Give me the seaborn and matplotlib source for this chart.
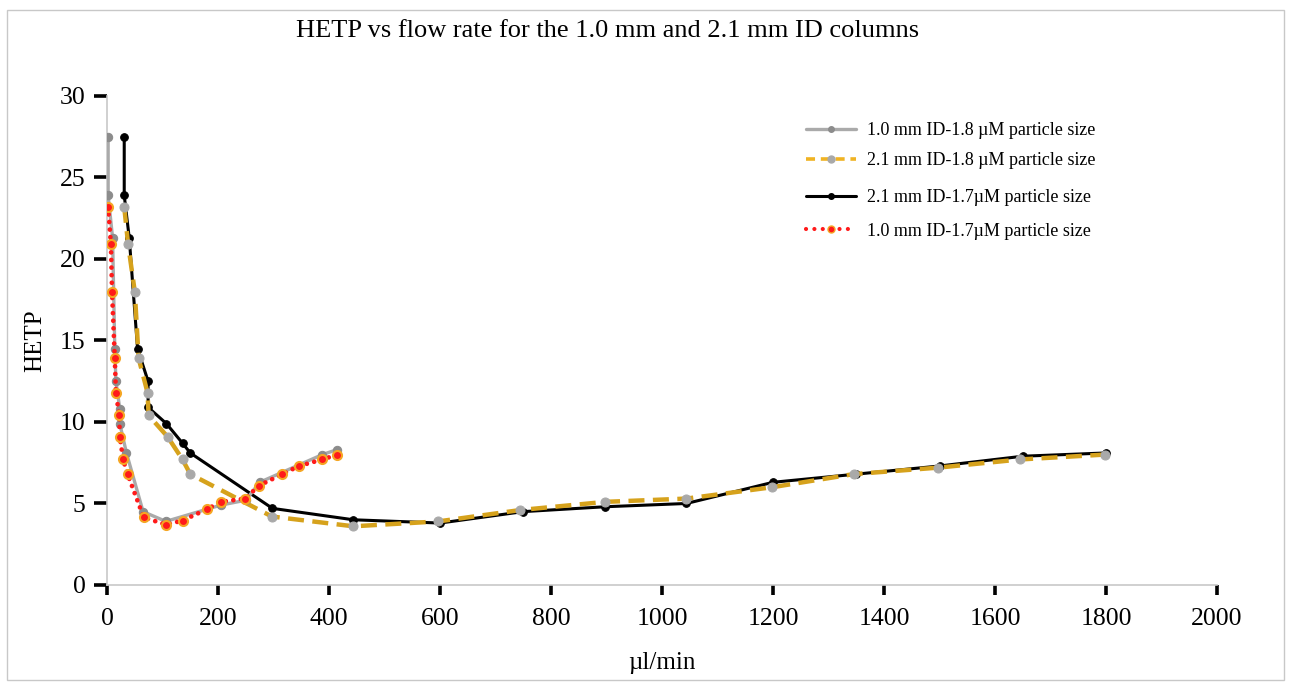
import matplotlib
matplotlib.use('Agg')
import matplotlib.pyplot as plt
import seaborn as sns
from matplotlib.lines import Line2D
from matplotlib.patches import Rectangle

# 1.0 mm ID - 1.8 um
flow_10_18 = [2, 2, 10, 14, 16, 23, 23, 35, 65, 106, 205, 250, 275, 388, 414]
hetp_10_18 = [27.5, 23.9, 21.3, 14.5, 12.5, 10.8, 9.9, 8.1, 4.5, 3.9, 4.9, 5.2, 6.3, 8.0, 8.3]

# 2.1 mm ID - 1.8 um
flow_21_18 = [31, 38, 50, 57, 73, 75, 109, 136, 150, 297, 444, 597, 745, 898, 1044, 1199, 1345, 1498, 1645, 1798]
hetp_21_18 = [23.2, 20.9, 18.0, 13.9, 11.8, 10.4, 9.1, 7.7, 6.8, 4.2, 3.6, 3.9, 4.6, 5.1, 5.3, 6.0, 6.8, 7.2, 7.7, 8.0]

# 2.1 mm ID - 1.7 um
flow_21_17 = [31, 31, 40, 55, 74, 74, 107, 136, 150, 298, 444, 600, 750, 898, 1044, 1200, 1350, 1500, 1650, 1800]
hetp_21_17 = [27.5, 23.9, 21.3, 14.5, 12.5, 10.9, 9.9, 8.7, 8.1, 4.7, 4.0, 3.8, 4.5, 4.8, 5.0, 6.3, 6.8, 7.3, 7.9, 8.1]

# 1.0 mm ID - 1.7 um
flow_10_17 = [2, 7, 9, 14, 16, 22, 23, 29, 37, 66, 106, 136, 180, 205, 249, 274, 316, 346, 388, 415]
hetp_10_17 = [23.2, 20.9, 18.0, 13.9, 11.8, 10.4, 9.1, 7.7, 6.8, 4.15, 3.7, 3.95, 4.65, 5.1, 5.3, 6.1, 6.8, 7.3, 7.7, 8.0]

labels = ['1.0 mm ID-1.8 \u00b5M particle size',
          '2.1 mm ID-1.8 \u00b5M particle size',
          '2.1 mm ID-1.7\u00b5M particle size',
          '1.0 mm ID-1.7\u00b5M particle size']

sns.set_style('white')
plt.rcParams['font.family'] = ['Liberation Serif', 'DejaVu Serif']
plt.rcParams['text.color'] = 'black'
plt.rcParams['axes.labelcolor'] = 'black'
plt.rcParams['xtick.color'] = 'black'
plt.rcParams['ytick.color'] = 'black'

fig = plt.figure(figsize=(12.91, 6.87), dpi=100)
ax = fig.add_axes([0.0829, 0.1485, 0.8598, 0.7118])

gold = '#d6a21c'

# 2.1 mm 1.7 (black)
sns.lineplot(x=flow_21_17, y=hetp_21_17, ax=ax, estimator=None, sort=False,
             color='black', linewidth=2.2, marker='o', markersize=5.5,
             markerfacecolor='black', markeredgecolor='black', zorder=2)
# 2.1 mm 1.8 (gold dashed)
sns.lineplot(x=flow_21_18, y=hetp_21_18, ax=ax, estimator=None, sort=False,
             color=gold, linewidth=3.2, linestyle=(0, (3.6, 1.9)), marker='o', markersize=6.5,
             markerfacecolor='#a9a9a9', markeredgecolor='#a9a9a9', zorder=3)
# 1.0 mm 1.8 (gray)
sns.lineplot(x=flow_10_18, y=hetp_10_18, ax=ax, estimator=None, sort=False,
             color='#aaaaaa', linewidth=2.4, marker='o', markersize=6,
             markerfacecolor='#8c8c8c', markeredgecolor='#8c8c8c', zorder=4)
# 1.0 mm 1.7 (red dotted)
sns.lineplot(x=flow_10_17, y=hetp_10_17, ax=ax, estimator=None, sort=False,
             color='#ff1a1a', linewidth=3.4, linestyle=(0, (0.01, 1.6)), dash_capstyle='round',
             marker='o', markersize=6.5, markerfacecolor='#ff1a1a', markeredgecolor='#f5a623',
             markeredgewidth=1.5, zorder=5)

ax.set_xlim(0, 2000)
ax.set_ylim(0, 30)
ax.set_xticks(range(0, 2001, 200))
ax.set_yticks(range(0, 31, 5))
for s in ['top', 'right']:
    ax.spines[s].set_visible(False)
for s in ['left', 'bottom']:
    ax.spines[s].set_color('#c8c8c8')
    ax.spines[s].set_linewidth(1.2)
ax.tick_params(axis='y', left=True, direction='out', length=9.5, width=2.6, color='black',
               labelsize=18.5, pad=6)
ax.tick_params(axis='x', bottom=True, direction='out', length=7.5, width=2.6, color='black',
               labelsize=18.5, pad=9)
ax.set_xlabel('\u00b5l/min', fontsize=18, labelpad=16)
ax.set_ylabel('HETP', fontsize=18, labelpad=10)

fig.text(0.471, 0.955, 'HETP vs flow rate for the 1.0 mm and 2.1 mm ID columns',
         ha='center', va='center', fontsize=19)

h1 = Line2D([], [], color='#aaaaaa', linewidth=2.4, marker='o', markersize=4,
            markerfacecolor='#8c8c8c', markeredgecolor='#8c8c8c')
h2 = Line2D([], [], color='#f0b323', linewidth=2.6, linestyle=(0, (2.5, 1.6)), marker='o', markersize=5,
            markerfacecolor='#a9a9a9', markeredgecolor='#a9a9a9')
h3 = Line2D([], [], color='black', linewidth=2.2, marker='o', markersize=4,
            markerfacecolor='black', markeredgecolor='black')
h4 = Line2D([], [], color='#ff1a1a', linewidth=3.0, linestyle=(0, (0.01, 2.0)), dash_capstyle='round',
            marker='o', markersize=5, markerfacecolor='#ff1a1a', markeredgecolor='#f5a623')

leg1 = ax.legend([h1, h2], labels[:2], loc='upper left', bbox_to_anchor=(0.624, 0.822),
                 bbox_transform=fig.transFigure, frameon=False, fontsize=13,
                 handlelength=2.8, handletextpad=0.6, labelspacing=0.72, borderpad=0,
                 borderaxespad=0, numpoints=1)
ax.add_artist(leg1)
ax.legend([h3, h4], labels[2:], loc='upper left', bbox_to_anchor=(0.624, 0.725),
          bbox_transform=fig.transFigure, frameon=False, fontsize=13,
          handlelength=2.8, handletextpad=0.6, labelspacing=0.92, borderpad=0,
          borderaxespad=0, numpoints=1)

fig.patches.append(Rectangle((0.0054, 0.0102), 0.989, 0.975, transform=fig.transFigure,
                             fill=False, edgecolor='#c8c8c8', linewidth=1.0))

fig.savefig('out.png', dpi=100)
